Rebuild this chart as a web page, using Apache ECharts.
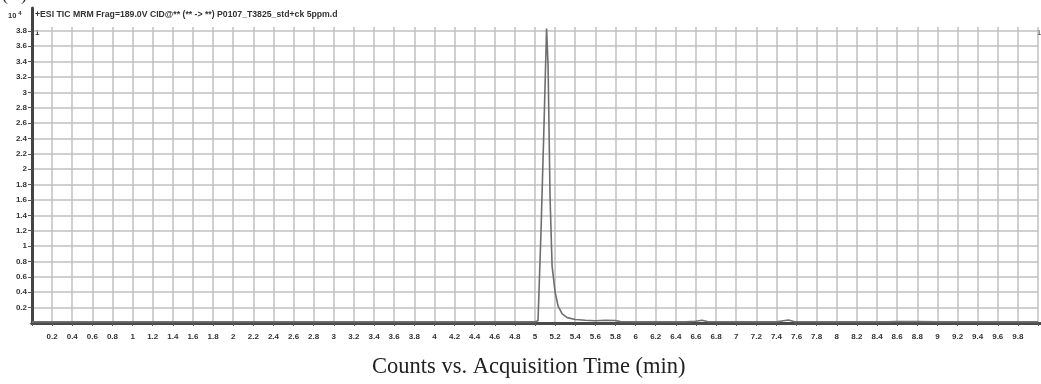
<!DOCTYPE html>
<html>
<head>
<meta charset="utf-8">
<script src="https://cdn.jsdelivr.net/npm/echarts@6/dist/echarts.min.js"></script>
<style>
  html, body { margin: 0; padding: 0; background: #fff; }
  #main { width: 1041px; height: 384px; }
</style>
</head>
<body>
<div id="main"></div>
<script>
// acquisition time (min) and counts (x10^4)
var times = [0, 0.5, 1, 1.5, 2, 2.5, 3, 3.5, 4, 4.5, 5.0, 5.03, 5.06, 5.09, 5.115, 5.13, 5.15, 5.17, 5.2, 5.23, 5.27, 5.32, 5.4, 5.5, 5.6, 5.7, 5.8, 5.85, 6, 6.5, 6.6, 6.66, 6.72, 7, 7.4, 7.47, 7.52, 7.58, 8, 8.5, 8.6, 8.8, 9, 9.5, 10];
var counts = [0.015, 0.015, 0.015, 0.015, 0.015, 0.015, 0.015, 0.015, 0.015, 0.015, 0.015, 0.03, 1.2, 2.6, 3.83, 3.35, 1.62, 0.74, 0.4, 0.22, 0.12, 0.07, 0.045, 0.035, 0.03, 0.035, 0.033, 0.018, 0.015, 0.015, 0.022, 0.035, 0.017, 0.015, 0.015, 0.03, 0.04, 0.017, 0.015, 0.015, 0.02, 0.018, 0.015, 0.015, 0.015];
var yTicks = [0.2, 0.4, 0.6, 0.8, 1, 1.2, 1.4, 1.6, 1.8, 2, 2.2, 2.4, 2.6, 2.8, 3, 3.2, 3.4, 3.6, 3.8];
var title = '+ESI TIC MRM Frag=189.0V CID@** (** -> **) P0107_T3825_std+ck 5ppm.d';
var xName = 'Counts vs. Acquisition Time (min)';

var points = [];
for (var i = 0; i < times.length; i++) {
    points.push([times[i], counts[i]]);
}

var sansFont = 'Liberation Sans';
var tickFont = {
    fontFamily: sansFont,
    fontWeight: 'bold',
    fontSize: 8,
    color: '#333'
};
var gridLine = { show: true, lineStyle: { color: '#c0c0c0', width: 1.5 } };

var myChart = echarts.init(document.getElementById('main'));
var option = {
    backgroundColor: '#fff',
    animation: false,
    grid: [
        // data area
        { left: 32, right: 0, top: 27, bottom: 61 },
        // outer frame (top border + full left border)
        { left: 32, right: 0, top: 8, bottom: 61 }
    ],
    graphic: [
        {
            type: 'text', left: 2, top: -14,
            style: { text: '(A)', font: '18px "Liberation Serif"', fill: '#222' }
        },
        {
            type: 'text', left: 8, top: 10,
            style: {
                text: '{b|10}{s|4}',
                rich: {
                    b: { fontFamily: sansFont, fontWeight: 'bold', fontSize: 7.5, fill: '#333', verticalAlign: 'bottom' },
                    s: { fontFamily: sansFont, fontWeight: 'bold', fontSize: 6, fill: '#333', padding: [0, 0, 4, 2] }
                }
            }
        },
        {
            type: 'text', left: 35, top: 10,
            style: { text: title, font: 'bold 8.7px "Liberation Sans"', fill: '#333' }
        },
        {
            type: 'text', left: 35, top: 29,
            style: { text: '1', font: 'bold 8px "Liberation Sans"', fill: '#333' }
        },
        {
            type: 'text', right: 0, top: 29,
            style: { text: '1', font: 'bold 8px "Liberation Sans"', fill: '#333' }
        },
        {
            type: 'text', left: 372, top: 356,
            style: { text: xName, font: '22.5px "Liberation Serif"', fill: '#222' }
        }
    ],
    xAxis: [
        {
            gridIndex: 0,
            type: 'value',
            min: 0,
            max: 10,
            interval: 0.2,
            axisLine: { show: true, onZero: false, lineStyle: { color: '#444', width: 3 } },
            axisTick: { show: true, length: 3, lineStyle: { color: '#555' } },
            axisLabel: Object.assign({
                margin: 10,
                formatter: function (v) {
                    if (v <= 0 || v >= 10) return '';
                    return String(Math.round(v * 10) / 10);
                }
            }, tickFont),
            splitLine: gridLine
        },
        {
            gridIndex: 0,
            type: 'value',
            position: 'bottom',
            offset: 3,
            min: 0,
            max: 10,
            axisLine: { show: true, lineStyle: { color: '#777', width: 1 } },
            axisTick: { show: false },
            axisLabel: { show: false },
            splitLine: { show: false }
        },
        {
            gridIndex: 1,
            type: 'value',
            position: 'top',
            min: 0,
            max: 10,
            axisLine: { show: true, lineStyle: { color: '#4a4a4a', width: 3 } },
            axisTick: { show: false },
            axisLabel: { show: false },
            splitLine: { show: false }
        }
    ],
    yAxis: [
        {
            gridIndex: 0,
            type: 'value',
            min: 0,
            max: 3.85,
            axisLine: { show: false },
            axisTick: { show: true, length: 4, inside: false, customValues: yTicks, lineStyle: { color: '#555' } },
            axisLabel: Object.assign({ margin: 5, customValues: yTicks }, tickFont),
            splitLine: gridLine
        },
        {
            gridIndex: 1,
            type: 'value',
            min: 0,
            max: 1,
            axisLine: { show: true, onZero: false, lineStyle: { color: '#444', width: 3 } },
            axisTick: { show: false },
            axisLabel: { show: false },
            splitLine: { show: false }
        }
    ],
    series: [
        {
            type: 'line',
            xAxisIndex: 0,
            yAxisIndex: 0,
            data: points,
            showSymbol: false,
            smooth: false,
            lineStyle: { color: '#6e6e6e', width: 1.6 }
        }
    ]
};
myChart.setOption(option);
</script>
</body>
</html>
